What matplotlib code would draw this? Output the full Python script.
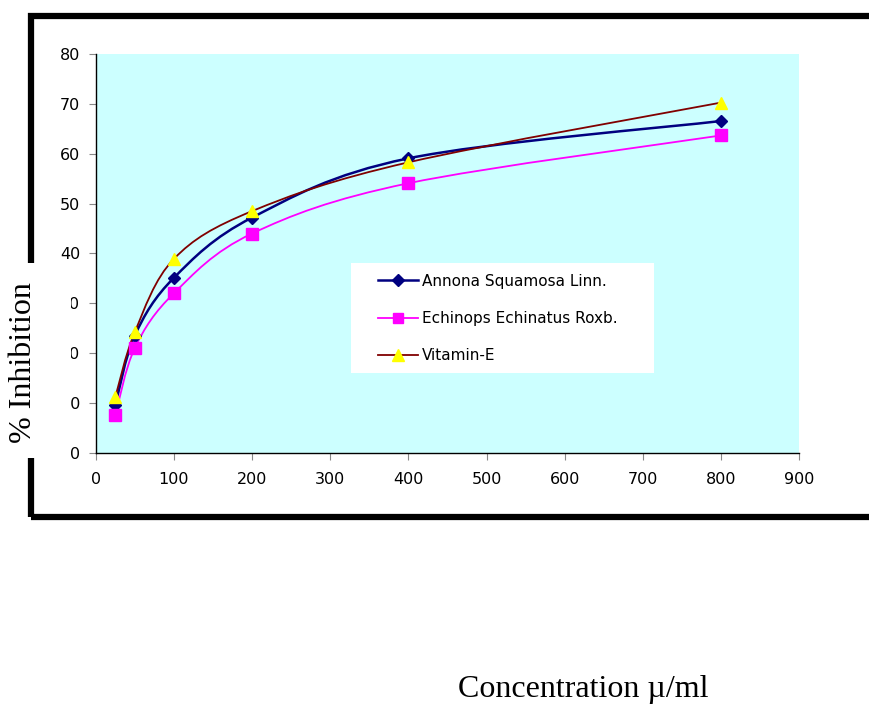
import matplotlib
matplotlib.use("Agg")
import matplotlib.pyplot as plt
from matplotlib.path import Path
from matplotlib.patches import PathPatch, Rectangle
from matplotlib.lines import Line2D

# concentration (µ/ml) and % inhibition for each sample
conc = [25, 50, 100, 200, 400, 800]
annona = [9.5, 23.5, 35.1, 47.2, 59.1, 66.6]
echinops = [7.5, 21.0, 32.0, 44.0, 54.1, 63.7]
vitamin_e = [11.1, 24.2, 38.9, 48.5, 58.3, 70.3]

series_names = ["Annona Squamosa Linn.", "Echinops Echinatus Roxb.", "Vitamin-E"]
line_colors = ["#000080", "#FF00FF", "#800000"]
face_colors = ["#000080", "#FF00FF", "#FFFF00"]
markers = ["D", "s", "^"]
marker_sizes = [6.5, 8, 9]
line_widths = [1.8, 1.3, 1.3]

x_ticks = [0, 100, 200, 300, 400, 500, 600, 700, 800, 900]
y_ticks = [0, 10, 20, 30, 40, 50, 60, 70, 80]


def smooth_path(xs, ys):
    # cubic bezier through the points (catmull-rom style, like a spreadsheet "smoothed line")
    pts = list(zip(xs, ys))
    n = len(pts)
    verts = [pts[0]]
    codes = [Path.MOVETO]
    for i in range(n - 1):
        p0 = pts[max(i - 1, 0)]
        p1 = pts[i]
        p2 = pts[i + 1]
        p3 = pts[min(i + 2, n - 1)]
        c1 = (p1[0] + (p2[0] - p0[0]) / 6, p1[1] + (p2[1] - p0[1]) / 6)
        c2 = (p2[0] - (p3[0] - p1[0]) / 6, p2[1] - (p3[1] - p1[1]) / 6)
        verts += [c1, c2, p2]
        codes += [Path.CURVE4] * 3
    return Path(verts, codes)


fig = plt.figure(figsize=(8.7, 7.05), dpi=100)
ax = fig.add_axes([0.110, 0.358, 0.8087, 0.565])
ax.set_facecolor("#CCFFFF")

handles = []
for ys, name, lc, fc, m, ms, lw in zip([annona, echinops, vitamin_e], series_names,
                                        line_colors, face_colors, markers, marker_sizes, line_widths):
    ax.add_patch(PathPatch(smooth_path(conc, ys), facecolor="none", edgecolor=lc, lw=lw, zorder=3))
    ax.plot(conc, ys, linestyle="none", marker=m, markersize=ms, markerfacecolor=fc,
            markeredgecolor=fc, zorder=4)
    handles.append(Line2D([], [], color=lc, lw=lw, marker=m, markersize=ms * 0.9,
                          markerfacecolor=fc, markeredgecolor=fc, label=name))

ax.set_xlim(0, 900)
ax.set_ylim(0, 80)
ax.set_xticks(x_ticks)
ax.set_yticks(y_ticks)
ax.tick_params(axis="both", direction="out", length=5, color="#888888", labelsize=11.5,
               labelcolor="black")
ax.tick_params(axis="y", pad=6)
ax.tick_params(axis="x", pad=9)
for side in ["top", "right"]:
    ax.spines[side].set_visible(False)
for side in ["left", "bottom"]:
    ax.spines[side].set_color("black")
    ax.spines[side].set_linewidth(1.0)

# legend sits on a plain white panel inside the plot area
ax.add_patch(Rectangle((0.363, 0.200), 0.431, 0.276, transform=ax.transAxes,
                       facecolor="white", edgecolor="none", zorder=5))
leg = ax.legend(handles=handles, loc="upper left", bbox_to_anchor=(0.401, 0.449),
                frameon=False, fontsize=11, handlelength=2.6, handletextpad=0.3,
                labelspacing=1.45, borderpad=0, borderaxespad=0)
leg.set_zorder(6)

# thick black frame round the chart, running off the right edge
fig.patches.append(Rectangle((31 / 870, 1 - 517 / 705), 1.05, (517 - 16) / 705,
                             transform=fig.transFigure, fill=False, edgecolor="black",
                             lw=4.5, clip_on=False, zorder=1))
# white block behind the y label
fig.patches.append(Rectangle((6 / 870, 1 - 458 / 705), 64.8 / 870, (458 - 263) / 705,
                             transform=fig.transFigure, facecolor="white", edgecolor="none",
                             zorder=2))

fig.text(24 / 870, 1 - 363 / 705, "% Inhibition", rotation=90, ha="center", va="center",
         family="Liberation Serif", fontsize=23, zorder=3)
fig.text(583 / 870, 1 - 690 / 705, "Concentration µ/ml", ha="center", va="center",
         family="Liberation Serif", fontsize=23)

fig.savefig("out.png", dpi=100)
